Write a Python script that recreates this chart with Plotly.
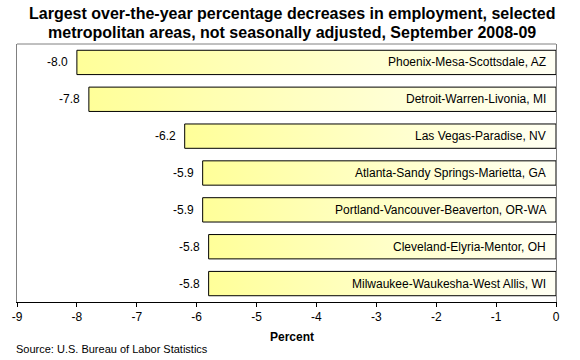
import plotly.graph_objects as go

areas = [
    "Phoenix-Mesa-Scottsdale, AZ",
    "Detroit-Warren-Livonia, MI",
    "Las Vegas-Paradise, NV",
    "Atlanta-Sandy Springs-Marietta, GA",
    "Portland-Vancouver-Beaverton, OR-WA",
    "Cleveland-Elyria-Mentor, OH",
    "Milwaukee-Waukesha-West Allis, WI",
]
values = [-8.0, -7.8, -6.2, -5.9, -5.9, -5.8, -5.8]
x_ticks = list(range(-9, 1))

title_lines = ["Largest over-the-year percentage decreases in employment, selected",
               "metropolitan areas, not seasonally adjusted, September 2008-09"]
x_title = "Percent"
source_text = "Source: U.S. Bureau of Labor Statistics"

FONT = "Arial, 'Liberation Sans', sans-serif"
HALF = 0.33
W, H = 580, 360
L, R, T, B = 13, 24, 44, 58

fig = go.Figure()
for i, (a, v) in enumerate(zip(areas, values)):
    fig.add_trace(go.Scatter(
        x=[v, 0, 0, v, v],
        y=[i - HALF, i - HALF, i + HALF, i + HALF, i - HALF],
        mode="lines", fill="toself",
        fillgradient=dict(type="horizontal",
                          colorscale=[[0, "#FFFF99"], [1, "#FFFFF4"]]),
        line=dict(color="black", width=1),
        hoverinfo="skip", showlegend=False,
    ))
    fig.add_annotation(x=v, y=i, text=f"{v:.1f}", xanchor="right", xshift=-7,
                       showarrow=False, font=dict(family=FONT, size=12, color="black"))
    fig.add_annotation(x=0, y=i, text=a, xanchor="right", xshift=-8,
                       showarrow=False, font=dict(family=FONT, size=12, color="black"))

pw = W - L - R
title_cx = (290 - L) / pw
for line, cy in zip(title_lines, [13, 32]):
    fig.add_annotation(xref="paper", yref="paper", x=title_cx, y=1, yshift=T - cy,
                       xanchor="center", yanchor="middle", text=f"<b>{line}</b>",
                       showarrow=False, font=dict(family=FONT, size=16, color="black"))

fig.add_annotation(xref="paper", yref="paper", x=title_cx, y=0, yshift=-(337 - (H - B)),
                   xanchor="center", yanchor="middle", text=f"<b>{x_title}</b>",
                   showarrow=False, font=dict(family=FONT, size=12, color="black"))

fig.add_annotation(xref="paper", yref="paper", x=0, y=0, yshift=-(349 - (H - B)),
                   xshift=-3, xanchor="left", yanchor="middle", text=source_text,
                   showarrow=False, font=dict(family=FONT, size=11, color="black"))

fig.add_shape(type="line", xref="paper", yref="paper", x0=0, x1=1, y0=1, y1=1,
              line=dict(color="#808080", width=1))

fig.update_layout(
    width=W, height=H,
    margin=dict(l=L, r=R, t=T, b=B),
    paper_bgcolor="white", plot_bgcolor="white",
    font=dict(family=FONT, size=12, color="black"),
    xaxis=dict(range=[-9, 0], tickvals=x_ticks, ticktext=[str(t) for t in x_ticks],
               ticks="outside", ticklen=4, tickcolor="black", tickwidth=1,
               showline=True, linecolor="black", linewidth=1,
               showgrid=False, zeroline=False,
               tickfont=dict(family=FONT, size=12, color="black")),
    yaxis=dict(range=[6.5, -0.5], showticklabels=False, showgrid=False,
               zeroline=False, showline=True, linecolor="#808080", linewidth=1,
               mirror=True, ticks=""),
)

fig.write_html("out.html", config={"displayModeBar": False},
               post_script="document.body.style.margin='0';")
